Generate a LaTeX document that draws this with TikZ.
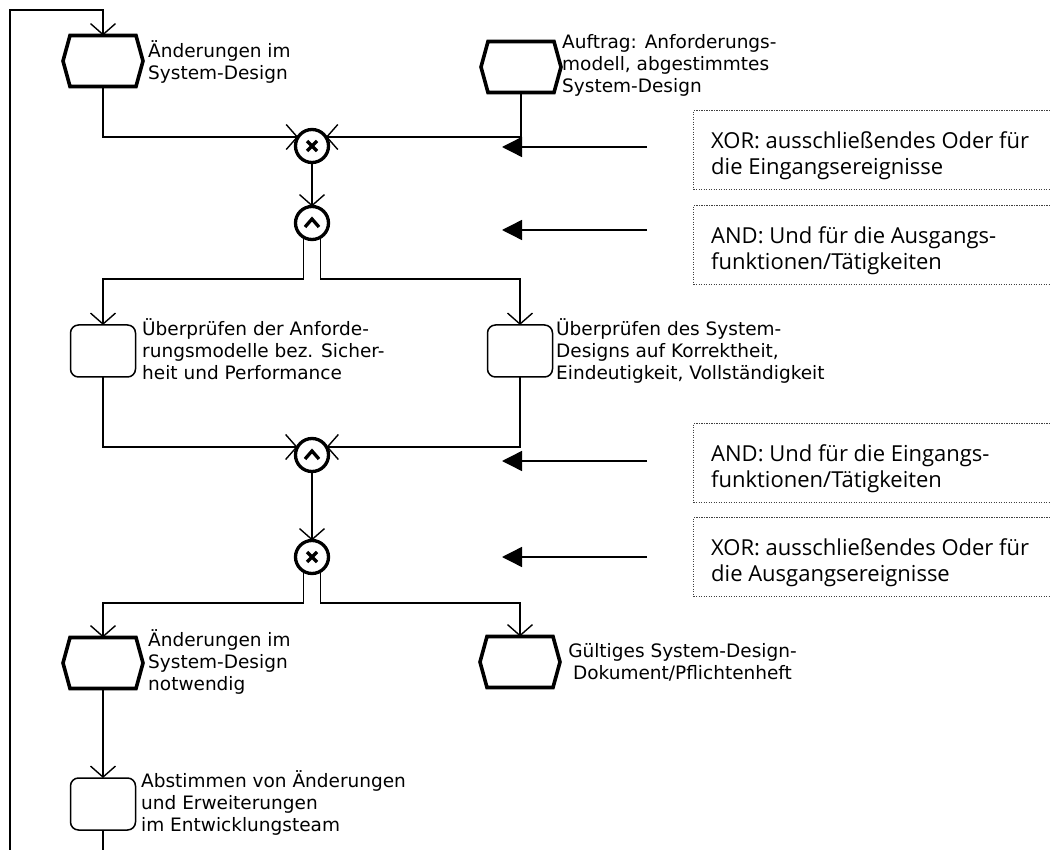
\documentclass[tikz,border=0pt]{standalone}
\usepackage{fontspec}
\setmainfont{DejaVu Sans}
\newfontfamily\notefont{Open Sans}
\usetikzlibrary{arrows.meta,calc}

% fixed first-line height so every label's top sits a constant distance above its baseline
\newcommand{\tstrut}{\rule{0pt}{17.5pt}}
\newcommand{\nstrut}{\rule{0pt}{21pt}}
% hexagonal event outline around an (invisible) event node
\newcommand{\eventhex}[1]{%
  \draw[evline] (#1.west) -- ([xshift=7pt]#1.north west) -- ([xshift=-7pt]#1.north east)
    -- (#1.east) -- ([xshift=-7pt]#1.south east) -- ([xshift=7pt]#1.south west) -- cycle;}

\begin{document}
\begin{tikzpicture}[x=1pt,y=-1pt,
  conn/.style={line width=1.4pt},
  barb/.style={-{Straight Barb[length=11pt,width=25pt]}},
  pointer/.style={conn,-{Triangle[length=20pt,width=20pt]}},
  evbox/.style={rectangle,minimum width=80pt,minimum height=51pt,inner sep=0pt,outer sep=0pt},
  evline/.style={line width=3.6pt,line join=miter},
  fnbox/.style={draw,rectangle,rounded corners=8pt,line width=1.5pt,
    minimum width=65pt,minimum height=52pt,inner sep=0pt,outer sep=0pt},
  opnode/.style={circle,draw,line width=3.3pt,minimum size=33pt,inner sep=0pt,outer sep=0pt},
  xorop/.style={opnode,path picture={
    \draw[line width=3.3pt]
      ([shift={(-5pt,-5pt)}]path picture bounding box.center) -- ++(10pt,10pt)
      ([shift={(-5pt,5pt)}]path picture bounding box.center) -- ++(10pt,-10pt);}},
  andop/.style={opnode,path picture={
    \draw[line width=3.3pt,line join=miter]
      ([shift={(-7pt,-4pt)}]path picture bounding box.center) -- ++(7pt,8pt) -- ++(7pt,-8pt);}},
  lbl/.style={anchor=north west,inner sep=0pt,align=left,
    font=\fontsize{18.5pt}{22pt}\selectfont},
  notebox/.style={draw=black!75,line width=1.1pt,dash pattern=on 1.1pt off 1.4pt,
    anchor=north west,minimum width=380pt,minimum height=79pt,inner sep=0pt},
  notetext/.style={anchor=north west,inner sep=0pt,align=left,
    font=\notefont\fontsize{22pt}{26pt}\selectfont}
]
\useasboundingbox (0,0) rectangle (1050,850);
\clip (0,0) rectangle (1050,850);

% events (hexagons)
\node[evbox] (E1) at (103,61) {};
\node[evbox] (E2) at (521,67) {};
\node[evbox] (E3) at (103,663) {};
\node[evbox] (E4) at (520,662) {};
\eventhex{E1}\eventhex{E2}\eventhex{E3}\eventhex{E4}

% functions (rounded boxes)
\node[fnbox] (F1) at (103,351) {};
\node[fnbox] (F2) at (520,351) {};
\node[fnbox] (F3) at (103,804) {};

% logical operators
\node[xorop] (xor1) at (312,146) {};
\node[andop] (and1) at (312,223) {};
\node[andop] (and2) at (312,455) {};
\node[xorop] (xor2) at (312,557) {};

% labels
\node[lbl] (tE1) at (148,39.5) {\tstrut Änderungen im\\System-Design};
\node[lbl] (tE2) at (562,31) {\tstrut Auftrag: Anforderungs-\\modell, abgestimmtes\\System-Design};
\node[lbl] (tF1) at (142,317.5) {\tstrut Überprüfen der Anforde-\\rungsmodelle bez. Sicher-\\heit und Performance};
\node[lbl] (tF2) at (556,317.5) {\tstrut Überprüfen des System-\\Designs auf Korrektheit,\\Eindeutigkeit, Vollständigkeit};
\node[lbl] (tE3) at (148,628.5) {\tstrut Änderungen im\\System-Design\\notwendig};
\node[lbl,anchor=north,align=center] (tE4) at (682.5,639.5) {\tstrut Gültiges System-Design-\\Dokument/Pflichtenheft};
\node[lbl] (tF3) at (141,769.5) {\tstrut Abstimmen von Änderungen\\und Erweiterungen\\im Entwicklungsteam};

% control flow
\draw[conn,barb] (F3.south) -- (F3.south |- 0,870) -| (10,10) -| (E1.north);
\draw[conn,barb] (E1.south) |- (xor1.147);
\draw[conn,barb] (E2.south) |- (xor1.33);
\draw[conn,barb] (xor1.south) -- (and1.north);
\draw[conn,barb] (and1.239) -- (and1.239 |- 0,279) -| (F1.north);
\draw[conn,barb] (and1.301) -- (and1.301 |- 0,279) -| (F2.north);
\draw[conn,barb] (F1.south) |- (and2.151);
\draw[conn,barb] (F2.south) |- (and2.29);
\draw[conn,barb] (and2.south) -- (xor2.north);
\draw[conn,barb] (xor2.239) -- (xor2.239 |- 0,603) -| (E3.north);
\draw[conn,barb] (xor2.301) -- (xor2.301 |- 0,603) -| (E4.north);
\draw[conn,barb] (E3.south) -- (F3.north);

% explanatory notes
\node[notebox] (nb1) at (693,110) {};
\node[notebox] (nb2) at (693,205) {};
\node[notebox] (nb3) at (693,423) {};
\node[notebox] (nb4) at (693,517) {};
\node[notetext] (nt1) at ([shift={(18pt,-17pt)}]nb1.north west) {\nstrut XOR: ausschließendes Oder für\\die Eingangsereignisse};
\node[notetext] (nt2) at ([shift={(18pt,-17pt)}]nb2.north west) {\nstrut AND: Und für die Ausgangs-\\funktionen/Tätigkeiten};
\node[notetext] (nt3) at ([shift={(18pt,-17pt)}]nb3.north west) {\nstrut AND: Und für die Eingangs-\\funktionen/Tätigkeiten};
\node[notetext] (nt4) at ([shift={(18pt,-17pt)}]nb4.north west) {\nstrut XOR: ausschließendes Oder für\\die Ausgangsereignisse};

% pointers from the notes to the operators
\coordinate (p1s) at (647,147); \coordinate (p1e) at (502,147);
\coordinate (p2s) at (647,230); \coordinate (p2e) at (502,230);
\coordinate (p3s) at (647,461); \coordinate (p3e) at (502,461);
\coordinate (p4s) at (647,557); \coordinate (p4e) at (502,557);
\draw[pointer] (p1s) -- (p1e);
\draw[pointer] (p2s) -- (p2e);
\draw[pointer] (p3s) -- (p3e);
\draw[pointer] (p4s) -- (p4e);
\end{tikzpicture}
\end{document}
